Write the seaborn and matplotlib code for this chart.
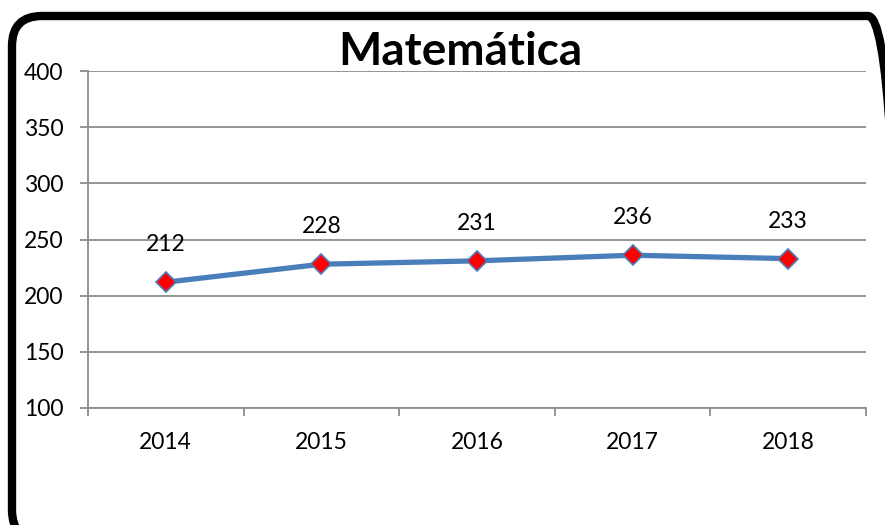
import matplotlib
matplotlib.use("Agg")
import matplotlib.pyplot as plt
import seaborn as sns
import pandas as pd
from matplotlib.patches import FancyBboxPatch

# data
years = ["2014", "2015", "2016", "2017", "2018"]
scores = [212, 228, 231, 236, 233]
title = "Matemática"

df = pd.DataFrame({"ano": years, "nota": scores})
df["pos"] = range(len(years))

sns.set_theme(style="white")
plt.rcParams["font.family"] = ["Lato", "DejaVu Sans"]

W, H = 885, 525
fig = plt.figure(figsize=(W / 100, H / 100), dpi=100)
ax = fig.add_axes([88 / W, 1 - 408 / H, (866 - 88) / W, (408 - 71) / H])

sns.lineplot(data=df, x="pos", y="nota", ax=ax, color="#4A7EBB", linewidth=3.8,
             marker="D", markersize=10, markerfacecolor="#FF0000",
             markeredgecolor="#4A7EBB", markeredgewidth=1.2)

# data labels above each point
for x, y in zip(df["pos"], df["nota"]):
    ax.annotate(str(y), (x, y), xytext=(0, 27), textcoords="offset points",
                ha="center", va="center", fontsize=16.5, color="black")

ax.set_xlim(-0.5, len(years) - 0.5)
ax.set_ylim(100, 400)
ax.set_yticks(range(100, 401, 50))
ax.set_xticks(df["pos"])
ax.set_xticklabels(years)
ax.set_xticks([i - 0.5 for i in range(len(years) + 1)], minor=True)
ax.set_xlabel("")
ax.set_ylabel("")

ax.yaxis.grid(True, color="#8C8C8C", linewidth=1.3)
ax.xaxis.grid(False)
for side in ["top", "right"]:
    ax.spines[side].set_visible(False)
for side in ["left", "bottom"]:
    ax.spines[side].set_color("#8C8C8C")
    ax.spines[side].set_linewidth(1.3)

ax.tick_params(axis="y", which="major", left=True, length=5.8, width=1.3,
               color="#8C8C8C", labelsize=16.5, pad=12, labelcolor="black")
ax.tick_params(axis="x", which="major", bottom=False, length=0, labelsize=16.5,
               pad=17, labelcolor="black")
ax.tick_params(axis="x", which="minor", bottom=True, length=5.8, width=1.3,
               color="#8C8C8C")

fig.text(460 / W, 1 - 52 / H, title, ha="center", va="center",
         fontsize=33, fontweight="bold", color="black")

# rounded black frame like the Excel chart area; right and bottom run off the canvas
left, right, top, bottom = 12, 898, 16, 540
frame = FancyBboxPatch((left / W, 1 - bottom / H), (right - left) / W, (bottom - top) / H,
                       boxstyle="round,pad=0,rounding_size=30",
                       mutation_scale=1 / W, mutation_aspect=W / H,
                       transform=fig.transFigure, fill=False,
                       edgecolor="black", linewidth=6, clip_on=False)
fig.add_artist(frame)

fig.savefig("out.png", dpi=100)
